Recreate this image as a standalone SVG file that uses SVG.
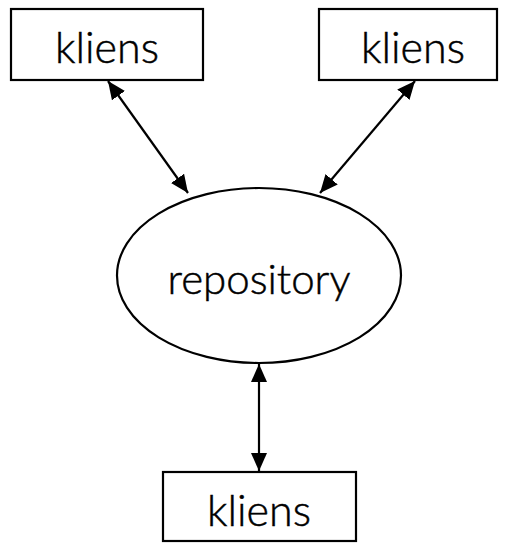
<svg xmlns="http://www.w3.org/2000/svg" width="508" height="543" viewBox="0 0 508 543">
<style>
.box{fill:#fff;stroke:#000;stroke-width:2.2}
.lbl{font-family:Lato,"Open Sans","Liberation Sans",sans-serif;font-weight:300;fill:#000;stroke:#000;stroke-width:0.5;text-anchor:middle}
.k{font-size:43px}
.r{font-size:42px}
.conn line{stroke:#000;stroke-width:2.2;marker-start:url(#ah);marker-end:url(#ah)}
</style>
<defs>
<marker id="ah" markerUnits="userSpaceOnUse" markerWidth="18" markerHeight="16" viewBox="0 0 18 16" refX="18" refY="8" orient="auto-start-reverse">
<path d="M0,0 L18,8 L0,16 z" fill="#000"/>
</marker>
</defs>
<g id="kliens1"><rect class="box" x="11" y="9" width="192" height="71"/><text class="lbl k" x="107" y="63">kliens</text></g>
<g id="kliens2"><rect class="box" x="319" y="9" width="178" height="71"/><text class="lbl k" x="413" y="63">kliens</text></g>
<g id="repository"><ellipse class="box" cx="259" cy="275.5" rx="142" ry="87.5"/><text class="lbl r" x="259" y="294">repository</text></g>
<g id="kliens3"><rect class="box" x="163" y="472" width="193" height="69"/><text class="lbl k" x="259" y="526">kliens</text></g>
<g class="conn" id="connectors">
<line x1="108" y1="81" x2="188" y2="193"/>
<line x1="415" y1="81" x2="320" y2="193"/>
<line x1="259" y1="364" x2="259" y2="471"/>
</g>
</svg>
